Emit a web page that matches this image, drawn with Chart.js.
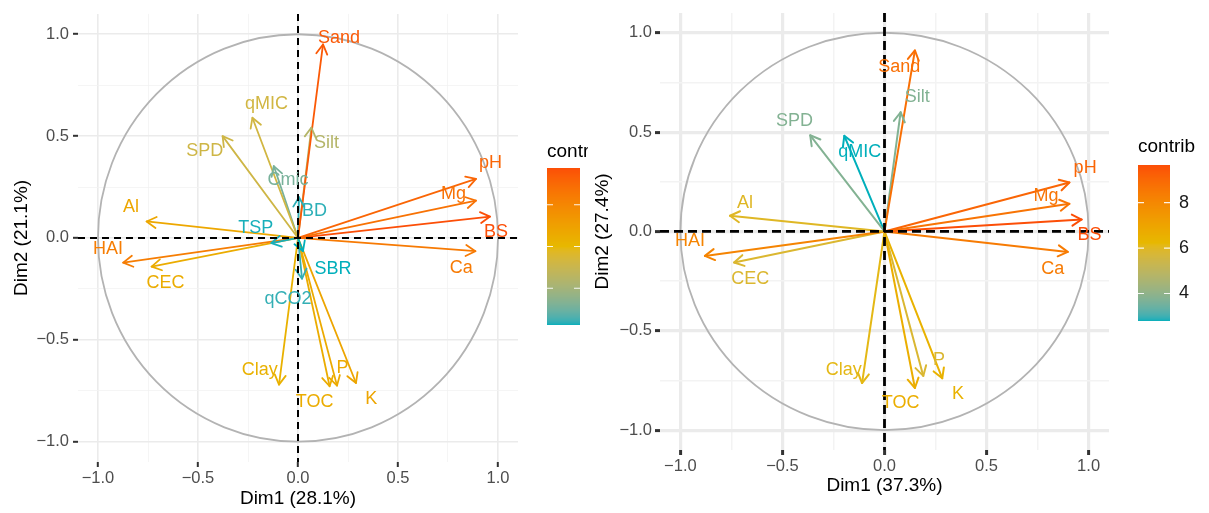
<!DOCTYPE html>
<html><head><meta charset="utf-8">
<script src="https://cdn.jsdelivr.net/npm/chart.js@4.4.1/dist/chart.umd.min.js"></script>
<style>
html,body{margin:0;padding:0;background:#fff;width:1209px;height:513px;overflow:hidden}
#wl{position:absolute;left:0;top:0;width:588px;height:513px;overflow:hidden}
#wr{position:absolute;left:590px;top:0;width:619px;height:513px;overflow:hidden}
canvas{display:block}
</style></head><body>
<div id="wl"><canvas id="cl" width="588" height="513"></canvas></div>
<div id="wr"><canvas id="cr" width="619" height="513"></canvas></div>
<script>
// ---------- data: left PCA (Dim1 28.1%, Dim2 21.1%) ----------
const varsL   = ['Sand','Silt','pH','Mg','BS','Ca','qMIC','SPD','Cmic','BD','TSP','SBR','qCO2','Al','HAI','CEC','Clay','TOC','P','K'];
const dim1L   = [0.125,0.067,0.890,0.890,0.960,0.887,-0.228,-0.377,-0.121,0.005,-0.133,0.025,0.020,-0.757,-0.874,-0.732,-0.095,0.158,0.195,0.290];
const dim2L   = [0.950,0.542,0.290,0.183,0.105,-0.065,0.590,0.500,0.353,0.200,-0.025,-0.065,-0.200,0.081,-0.121,-0.141,-0.720,-0.728,-0.725,-0.712];
const contribL= [9.33,3.03,8.90,8.39,9.70,8.04,4.07,3.98,1.42,0.45,0.35,0.30,0.50,5.89,7.91,5.65,5.36,5.64,5.73,6.01];
const labXL   = [0.205,0.142,0.962,0.777,0.990,0.816,-0.158,-0.466,-0.050,0.083,-0.211,0.175,-0.050,-0.835,-0.950,-0.662,-0.191,0.083,0.222,0.366];
const labYL   = [0.980,0.465,0.367,0.215,0.028,-0.146,0.659,0.429,0.283,0.130,0.049,-0.154,-0.300,0.154,-0.053,-0.222,-0.647,-0.804,-0.639,-0.793];
const axisTitlesL = ['Dim1 (28.1%)','Dim2 (21.1%)'];
const legendTicksL = [2.5,5.0,7.5];

// ---------- data: right PCA (Dim1 37.3%, Dim2 27.4%) ----------
const varsR   = ['Sand','Silt','pH','Mg','BS','Ca','SPD','qMIC','Al','HAI','CEC','Clay','TOC','P','K'];
const dim1R   = [0.149,0.079,0.906,0.906,0.966,0.898,-0.364,-0.197,-0.757,-0.880,-0.737,-0.110,0.149,0.190,0.283];
const dim2R   = [0.911,0.600,0.246,0.139,0.060,-0.103,0.484,0.481,0.079,-0.123,-0.156,-0.763,-0.788,-0.727,-0.739];
const contribR= [8.78,3.77,9.08,8.65,9.66,8.41,3.78,2.79,5.97,8.13,5.84,6.12,6.62,5.81,6.45];
const labXR   = [0.072,0.161,0.983,0.791,1.004,0.824,-0.441,-0.121,-0.683,-0.953,-0.658,-0.200,0.079,0.267,0.360];
const labYR   = [0.829,0.676,0.320,0.180,-0.017,-0.189,0.558,0.402,0.143,-0.049,-0.238,-0.695,-0.866,-0.649,-0.816];
const axisTitlesR = ['Dim1 (37.3%)','Dim2 (27.4%)'];
const legendTicksR = [4,6,8];

// ---------- shared axis ticks ----------
const majorTicks = [-1.0,-0.5,0.0,0.5,1.0];
const minorTicks = [-0.75,-0.25,0.25,0.75];
const gradientCols = ['#00AFBB','#E7B800','#FC4E07'];

// ---------- Lab colour interpolation (ggplot-like) ----------
function hex2rgb(h){return [1,3,5].map(i=>parseInt(h.substr(i,2),16));}
function lin(c){c/=255;return c<=0.04045?c/12.92:Math.pow((c+0.055)/1.055,2.4);}
function delin(c){c=c<=0.0031308?12.92*c:1.055*Math.pow(c,1/2.4)-0.055;return Math.round(Math.max(0,Math.min(1,c))*255);}
function rgb2lab(rgb){const [r,g,b]=rgb.map(lin);
  const X=(0.4124564*r+0.3575761*g+0.1804375*b)/0.95047;
  const Y=(0.2126729*r+0.7151522*g+0.0721750*b);
  const Z=(0.0193339*r+0.1191920*g+0.9503041*b)/1.08883;
  const f=t=>t>0.008856?Math.cbrt(t):(7.787*t+16/116);
  const fx=f(X),fy=f(Y),fz=f(Z);
  return [116*fy-16,500*(fx-fy),200*(fy-fz)];}
function lab2rgb(l){const [L,a,b]=l;const fy=(L+16)/116,fx=fy+a/500,fz=fy-b/200;
  const fi=t=>t*t*t>0.008856?t*t*t:(t-16/116)/7.787;
  const X=fi(fx)*0.95047,Y=fi(fy),Z=fi(fz)*1.08883;
  const r=3.2404542*X-1.5371385*Y-0.4985314*Z;
  const g=-0.9692660*X+1.8760108*Y+0.0415560*Z;
  const bb=0.0556434*X-0.2040259*Y+1.0572252*Z;
  return [delin(r),delin(g),delin(bb)];}
const labCols = gradientCols.map(h=>rgb2lab(hex2rgb(h)));
function colorAt(v,min,max){
  let t=(v-min)/(max-min); t=Math.max(0,Math.min(1,t));
  const s=t*(labCols.length-1); const i=Math.min(labCols.length-2,Math.floor(s)); const u=s-i;
  const a=labCols[i],b=labCols[i+1];
  const c=lab2rgb([a[0]+(b[0]-a[0])*u,a[1]+(b[1]-a[1])*u,a[2]+(b[2]-a[2])*u]);
  return 'rgb('+c.join(',')+')';
}

const FONT = "'Liberation Sans', Arial, sans-serif";
const isMajor = v => Math.abs(v*2-Math.round(v*2))<1e-6;
const tickFmt = v => isMajor(v) ? v.toFixed(1).replace('-','\u2212') : '';

function makeChart(id, d, L){
  const min=Math.min(...d.contrib), max=Math.max(...d.contrib);
  const cols=d.contrib.map(v=>colorAt(v,min,max));
  const datasets=d.names.map((n,i)=>({
    label:n, data:[{x:0,y:0},{x:d.dim1[i],y:d.dim2[i]}],
    borderColor:cols[i], borderWidth:L.arrowW, pointRadius:0, showLine:true, fill:false,
    borderCapStyle:'round'
  }));
  const scaleCommon = (axisTitle, isX) => ({
    type:'linear', min:-1.1, max:1.1,
    afterBuildTicks: s => { s.ticks = majorTicks.concat(minorTicks).sort((a,b)=>a-b).map(v=>({value:v})); },
    afterFit: s => { if(isX) s.height=L.xAxisH; else s.width=L.yAxisW; },
    border:{display:false},
    grid:{
      color: c => isMajor(c.tick.value) ? '#ebebeb' : '#f3f3f3',
      lineWidth: c => isMajor(c.tick.value) ? L.majW : L.minW,
      drawTicks:true, tickLength:L.tickLen,
      tickColor: c => isMajor(c.tick.value) ? '#333333' : 'rgba(0,0,0,0)',
      tickWidth: L.tickW
    },
    ticks:{autoSkip:false, maxRotation:0, color:'#4d4d4d', font:{family:FONT,size:L.tickFont},
      padding: isX?L.xTickPad:L.yTickPad, callback: v => tickFmt(v)},
    title:{display:true, text:axisTitle, color:'#000', font:{family:FONT,size:L.titleFont},
      padding: isX?{top:0,bottom:L.xTitlePad}:{top:L.yTitlePad,bottom:0}}
  });
  const pcaPlugin = {
    id:'pca'+id,
    beforeDatasetsDraw(chart){
      const {ctx,scales:{x,y}}=chart;
      const cx=x.getPixelForValue(0), cy=y.getPixelForValue(0);
      const rx=x.getPixelForValue(1)-cx, ry=cy-y.getPixelForValue(1);
      ctx.save(); ctx.strokeStyle='#b3b3b3'; ctx.lineWidth=L.circW;
      ctx.beginPath(); ctx.ellipse(cx,cy,rx,ry,0,0,Math.PI*2); ctx.stroke(); ctx.restore();
    },
    afterDatasetsDraw(chart){
      const {ctx,chartArea:a,scales:{x,y}}=chart;
      // arrow heads
      ctx.save(); ctx.lineCap='round'; ctx.lineJoin='round';
      chart.data.datasets.forEach((ds,i)=>{
        const m=chart.getDatasetMeta(i); const p0=m.data[0], p1=m.data[1];
        const ang=Math.atan2(p1.y-p0.y,p1.x-p0.x);
        ctx.strokeStyle=ds.borderColor; ctx.lineWidth=L.arrowW;
        ctx.beginPath();
        ctx.moveTo(p1.x-L.headLen*Math.cos(ang-Math.PI/6), p1.y-L.headLen*Math.sin(ang-Math.PI/6));
        ctx.lineTo(p1.x,p1.y);
        ctx.lineTo(p1.x-L.headLen*Math.cos(ang+Math.PI/6), p1.y-L.headLen*Math.sin(ang+Math.PI/6));
        ctx.stroke();
      });
      ctx.restore();
      // dashed zero lines
      const cx=x.getPixelForValue(0), cy=y.getPixelForValue(0);
      ctx.save(); ctx.strokeStyle='#000'; ctx.lineWidth=L.dashW; ctx.setLineDash(L.dash);
      ctx.beginPath(); ctx.moveTo(a.left,cy); ctx.lineTo(a.right,cy); ctx.stroke();
      ctx.beginPath(); ctx.moveTo(cx,a.top); ctx.lineTo(cx,a.bottom); ctx.stroke();
      ctx.restore();
      // variable labels
      ctx.save(); ctx.font=L.labFont+'px '+FONT; ctx.textAlign='center'; ctx.textBaseline='middle';
      d.names.forEach((n,i)=>{
        ctx.fillStyle=cols[i];
        ctx.fillText(n, x.getPixelForValue(d.labX[i]), y.getPixelForValue(d.labY[i]));
      });
      ctx.restore();
      // colour legend
      ctx.save();
      const bx=L.legX, bw=L.legW, bt=L.legTop, bb=L.legBot;
      for(let py=bt; py<bb; py++){
        const v=max-(py+0.5-bt)/(bb-bt)*(max-min);
        ctx.fillStyle=colorAt(v,min,max); ctx.fillRect(bx,py,bw,1);
      }
      ctx.strokeStyle='rgba(255,255,255,0.9)'; ctx.lineWidth=1.2;
      ctx.fillStyle='#1a1a1a'; ctx.font=L.legFont+'px '+FONT; ctx.textAlign='left'; ctx.textBaseline='middle';
      d.legTicks.forEach(t=>{
        const py=bb-(t-min)/(max-min)*(bb-bt);
        ctx.beginPath(); ctx.moveTo(bx,py); ctx.lineTo(bx+6,py); ctx.moveTo(bx+bw-6,py); ctx.lineTo(bx+bw,py); ctx.stroke();
        ctx.fillText(String(t), bx+bw+9, py);
      });
      ctx.fillStyle='#000'; ctx.font=L.legTitleFont+'px '+FONT;
      ctx.fillText('contrib', bx, L.legTitleY);
      ctx.restore();
    }
  };
  return new Chart(document.getElementById(id),{
    type:'scatter',
    data:{datasets},
    options:{
      responsive:false, animation:false, devicePixelRatio:1, events:[],
      layout:{padding:{left:0,top:L.padTop,right:L.padRight,bottom:0}},
      plugins:{legend:{display:false},tooltip:{enabled:false}},
      scales:{ x:scaleCommon(d.titles[0],true), y:scaleCommon(d.titles[1],false) }
    },
    plugins:[pcaPlugin]
  });
}

makeChart('cl',
  {names:varsL,dim1:dim1L,dim2:dim2L,contrib:contribL,labX:labXL,labY:labYL,titles:axisTitlesL,legTicks:legendTicksL},
  {yAxisW:78,xAxisH:51,padTop:8,padRight:70,majW:1.6,minW:0.8,tickLen:5,tickW:2,tickFont:16.5,titleFont:19,
   xTickPad:2,yTickPad:4,xTitlePad:3,yTitlePad:10,arrowW:1.8,headLen:11,circW:1.8,dashW:2,dash:[7,5],labFont:18,
   legX:547,legW:33,legTop:168,legBot:325,legFont:18,legTitleFont:19,legTitleY:152});

makeChart('cr',
  {names:varsR,dim1:dim1R,dim2:dim2R,contrib:contribR,labX:labXR,labY:labYR,titles:axisTitlesR,legTicks:legendTicksR},
  {yAxisW:70,xAxisH:63,padTop:5,padRight:100,majW:3.2,minW:1.5,tickLen:5,tickW:3,tickFont:16.5,titleFont:19,
   xTickPad:2,yTickPad:3,xTitlePad:16,yTitlePad:1,arrowW:2,headLen:11,circW:1.8,dashW:2.8,dash:[9,5],labFont:18,
   legX:548,legW:32,legTop:165,legBot:321,legFont:18,legTitleFont:19,legTitleY:147});
</script>
</body></html>
